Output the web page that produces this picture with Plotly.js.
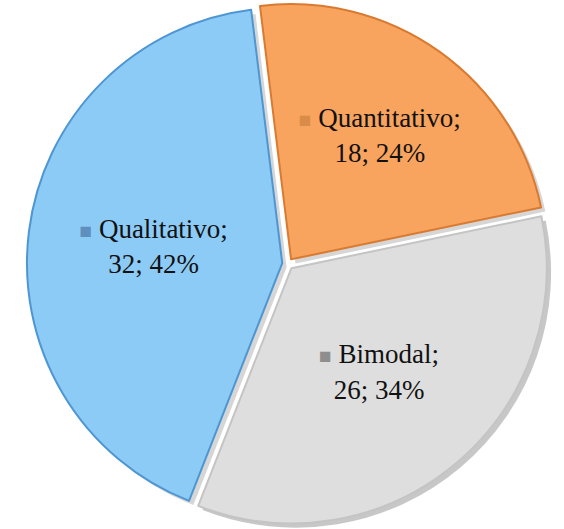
<!DOCTYPE html>
<html>
<head>
<meta charset="utf-8">
<script src="https://cdn.plot.ly/plotly-3.0.1.min.js"></script>
<style>
  html, body { margin: 0; padding: 0; background: #ffffff; }
  #chart { width: 564px; height: 529px; }
</style>
</head>
<body>
<div id="chart"></div>
<script>
// Data
const categories = ["Quantitativo", "Bimodal", "Qualitativo"];
const values = [18, 26, 32];

// Styles
const sliceColors = ["#F9A45E", "#DEDEDE", "#8DCBF7"];
const edgeColors = ["#D97A30", "#C4C4C4", "#4E96D2"];
const keyColors = ["#D98B48", "#8E8E8E", "#5E8FBD"];
const shadowColors = ["rgba(0,0,0,0.16)", "rgba(0,0,0,0.22)", "rgba(0,0,0,0.16)"];

const templates = keyColors.map(c =>
  '<span style="color:' + c + ';font-size:21px">■</span> %{label};<br>%{value}; %{percent:.0%}'
);

const common = {
  type: "pie",
  labels: categories,
  values: values,
  sort: false,
  direction: "clockwise",
  rotation: -7,
  pull: [0.022, 0.022, 0.022],
  hoverinfo: "none",
  showlegend: false
};

const shadow = Object.assign({}, common, {
  domain: { x: [0.008, 1], y: [0, 0.992] },
  marker: { colors: shadowColors, line: { width: 0 } },
  textinfo: "none"
});

const trace = Object.assign({}, common, {
  domain: { x: [0, 0.992], y: [0.008, 1] },
  marker: {
    colors: sliceColors,
    line: { color: edgeColors, width: 2 }
  },
  texttemplate: templates,
  textposition: "inside",
  insidetextorientation: "horizontal",
  insidetextfont: { family: "Liberation Serif, Times New Roman, serif", size: 27, color: "#111111" }
});

const layout = {
  width: 564,
  height: 529,
  margin: { l: 18, r: 2, t: 3, b: 0 },
  paper_bgcolor: "#ffffff",
  plot_bgcolor: "#ffffff",
  showlegend: false
};

Plotly.newPlot("chart", [shadow, trace], layout, { displayModeBar: false, staticPlot: true });
</script>
</body>
</html>
